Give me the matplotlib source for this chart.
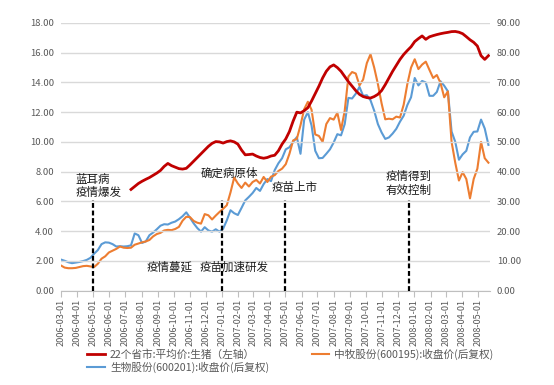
import matplotlib
matplotlib.use("Agg")
import matplotlib.pyplot as plt
import matplotlib.dates as mdates
import pandas as pd

plt.rcParams['font.family'] = ['Noto Sans CJK SC', 'DejaVu Sans']

# weekly trading calendar for the two stocks
week_dates = pd.date_range('2006-03-01', periods=117, freq='7D')

# 生物股份(600201) close, back-adjusted (right axis)
blue_vals = [10.4, 10.0, 9.5, 9.2, 9.4, 9.6, 9.9, 10.3, 11.0, 12.4,
             13.6, 15.6, 16.2, 16.1, 15.6, 14.8, 14.9, 14.8, 14.9, 15.2,
             19.2, 18.6, 16.0, 16.5, 18.6, 19.5, 20.6, 21.8, 22.3, 22.2,
             22.8, 23.2, 24.0, 25.0, 26.3, 24.5, 22.6, 21.0, 19.8, 21.3,
             20.2, 19.8, 20.6, 19.8, 20.8, 23.6, 27.0, 26.0, 25.4, 27.8,
             30.3, 31.5, 32.8, 34.5, 33.5, 35.8, 37.5, 36.8, 40.5, 42.8,
             44.5, 47.5, 48.2, 50.0, 51.6, 46.0, 57.5, 60.0, 55.5, 47.0,
             44.5, 44.6, 46.0, 47.5, 49.8, 52.6, 52.2, 56.0, 64.8, 64.6,
             66.2, 68.5, 65.5, 65.7, 64.0, 60.5, 56.0, 53.2, 51.0, 51.5,
             52.8, 54.4, 56.8, 58.8, 62.4, 65.0, 71.5, 69.0, 70.5, 70.0,
             65.5, 65.5, 66.8, 70.4, 68.9, 67.0, 53.5, 50.0, 44.0, 45.8,
             47.0, 51.5, 53.4, 53.5, 57.5, 54.5, 49.0]

# 中牧股份(600195) close, back-adjusted (right axis)
orange_vals = [8.4, 7.7, 7.5, 7.5, 7.6, 7.9, 8.2, 8.3, 8.1, 7.9,
               9.0, 10.7, 11.5, 12.8, 13.4, 14.0, 14.8, 14.4, 14.3, 14.4,
               15.4, 15.8, 16.2, 16.5, 17.0, 18.2, 19.0, 19.4, 20.2, 20.4,
               20.3, 20.7, 21.4, 23.5, 24.8, 24.7, 23.4, 22.8, 22.5, 25.7,
               25.3, 23.9, 25.2, 26.4, 27.5, 28.7, 33.0, 38.0, 36.0, 34.5,
               36.3, 35.0, 36.5, 37.2, 36.0, 38.2, 36.5, 38.3, 38.8, 40.2,
               41.0, 42.5, 46.0, 50.5, 51.0, 55.6, 61.0, 63.5, 60.8, 52.5,
               52.0, 50.0, 56.0, 58.0, 57.5, 59.8, 54.0, 60.5, 72.0, 73.5,
               73.0, 69.0, 71.0, 76.5, 79.5, 75.0, 69.5, 63.0, 57.6, 57.8,
               57.6, 58.5, 58.2, 62.5, 69.5, 75.0, 77.8, 74.5, 76.0, 77.0,
               74.2, 71.5, 72.5, 69.8, 65.0, 67.0, 50.0, 43.0, 37.0, 39.8,
               37.5, 31.0, 37.5, 41.0, 50.0, 44.5, 43.0]

# 22个省市 平均价 生猪 (left axis), weekly from mid-July 2006
pig_dates = week_dates[19:]
pig_vals = [6.8, 7.0, 7.2, 7.35, 7.48, 7.6, 7.75, 7.9, 8.08, 8.35,
            8.55, 8.4, 8.3, 8.2, 8.17, 8.22, 8.45, 8.7, 8.95, 9.2,
            9.45, 9.7, 9.9, 10.02, 10.0, 9.92, 10.02, 10.07, 10.0, 9.85,
            9.45, 9.13, 9.15, 9.18, 9.05, 8.95, 8.9, 8.95, 9.05, 9.1,
            9.4, 9.85, 10.2, 10.7, 11.4, 12.0, 11.95, 12.1, 12.3, 12.75,
            13.25, 13.75, 14.3, 14.75, 15.05, 15.18, 15.0, 14.75, 14.4, 14.05,
            13.75, 13.45, 13.2, 13.05, 12.98, 12.95, 13.05, 13.2, 13.45, 13.85,
            14.3, 14.75, 15.15, 15.55, 15.88, 16.15, 16.4, 16.75, 16.95, 17.13,
            16.9, 17.07, 17.15, 17.22, 17.28, 17.33, 17.37, 17.42, 17.43, 17.38,
            17.28, 17.08, 16.87, 16.7, 16.45, 15.8, 15.55, 15.8]

# event markers
event_dates = ['2006-05-01', '2007-01-01', '2007-05-01', '2007-12-22']
event_top = 6.1

notes = [
    ('蓝耳病', '2006-03-29', 7.5),
    ('疫情爆发', '2006-03-29', 6.62),
    ('确定病原体', '2006-11-21', 7.9),
    ('疫情蔓延', '2006-08-11', 1.58),
    ('疫苗加速研发', '2006-11-19', 1.58),
    ('疫苗上市', '2007-04-06', 6.96),
    ('疫情得到', '2007-11-08', 7.7),
    ('有效控制', '2007-11-08', 6.76),
]

month_ticks = pd.date_range('2006-03-01', '2008-05-01', freq='MS')

gray = '#595959'
grid_c = '#D9D9D9'

fig = plt.figure(figsize=(5.54, 3.85), dpi=100)
ax = fig.add_axes([61 / 554, 1 - 290.5 / 385, (490 - 61) / 554, (290.5 - 23) / 385])
ax2 = ax.twinx()

ax.set_ylim(0, 18)
ax2.set_ylim(0, 90)
ax.set_yticks(range(0, 19, 2))
ax2.set_yticks(range(0, 91, 10))
ax.set_yticklabels([f'{v:.2f}' for v in range(0, 19, 2)])
ax2.set_yticklabels([f'{v:.2f}' for v in range(0, 91, 10)])
ax.grid(axis='y', color=grid_c, linewidth=1.0)
ax.set_axisbelow(True)

l_blue, = ax2.plot(week_dates, blue_vals, color='#5B9BD5', linewidth=1.5,
                   label='生物股份(600201):收盘价(后复权)')
l_orange, = ax2.plot(week_dates, orange_vals, color='#ED7D31', linewidth=1.5,
                     label='中牧股份(600195):收盘价(后复权)')
# put red on top of the stock lines
ax.set_zorder(ax2.get_zorder() + 1)
ax.patch.set_visible(False)
l_red, = ax.plot(pig_dates, pig_vals, color='#C00000', linewidth=2.0,
                 label='22个省市:平均价:生猪（左轴）')
ax2.grid(False)

for d in event_dates:
    dd = pd.Timestamp(d)
    ax.plot([dd, dd], [0, event_top], color='black', linewidth=1.6,
            dashes=(2.2, 1.2), zorder=5)

for txt, d, y in notes:
    ax.text(pd.Timestamp(d), y, txt, fontsize=8.3, color='#1a1a1a',
            va='center', ha='left', zorder=6)

ax.set_xlim(pd.Timestamp('2006-03-01'), pd.Timestamp('2008-05-24'))
ax.set_xticks(month_ticks)
ax.xaxis.set_major_formatter(mdates.DateFormatter('%Y-%m-%d'))
for lab in ax.get_xticklabels():
    lab.set_rotation(90)

for a in (ax, ax2):
    for s in ('top', 'left', 'right'):
        a.spines[s].set_visible(False)
    a.spines['bottom'].set_color('#BFBFBF')
ax2.spines['bottom'].set_visible(False)

ax.tick_params(axis='x', colors='#BFBFBF', labelcolor=gray, labelsize=6.6,
               length=4, width=0.8, pad=2)
ax.tick_params(axis='y', length=0, labelcolor=gray, labelsize=6.8, pad=5)
ax2.tick_params(axis='y', length=0, labelcolor=gray, labelsize=6.8, pad=5)

leg = fig.legend(handles=[l_red, l_blue, l_orange], ncol=2, loc='lower left',
                 bbox_to_anchor=(80 / 554, 0.012), frameon=False,
                 fontsize=7.7, handlelength=1.6, handletextpad=0.5,
                 columnspacing=4.0, labelspacing=0.15, borderpad=0.2)
for t in leg.get_texts():
    t.set_color(gray)

fig.savefig('out.png', dpi=100, facecolor='white')
